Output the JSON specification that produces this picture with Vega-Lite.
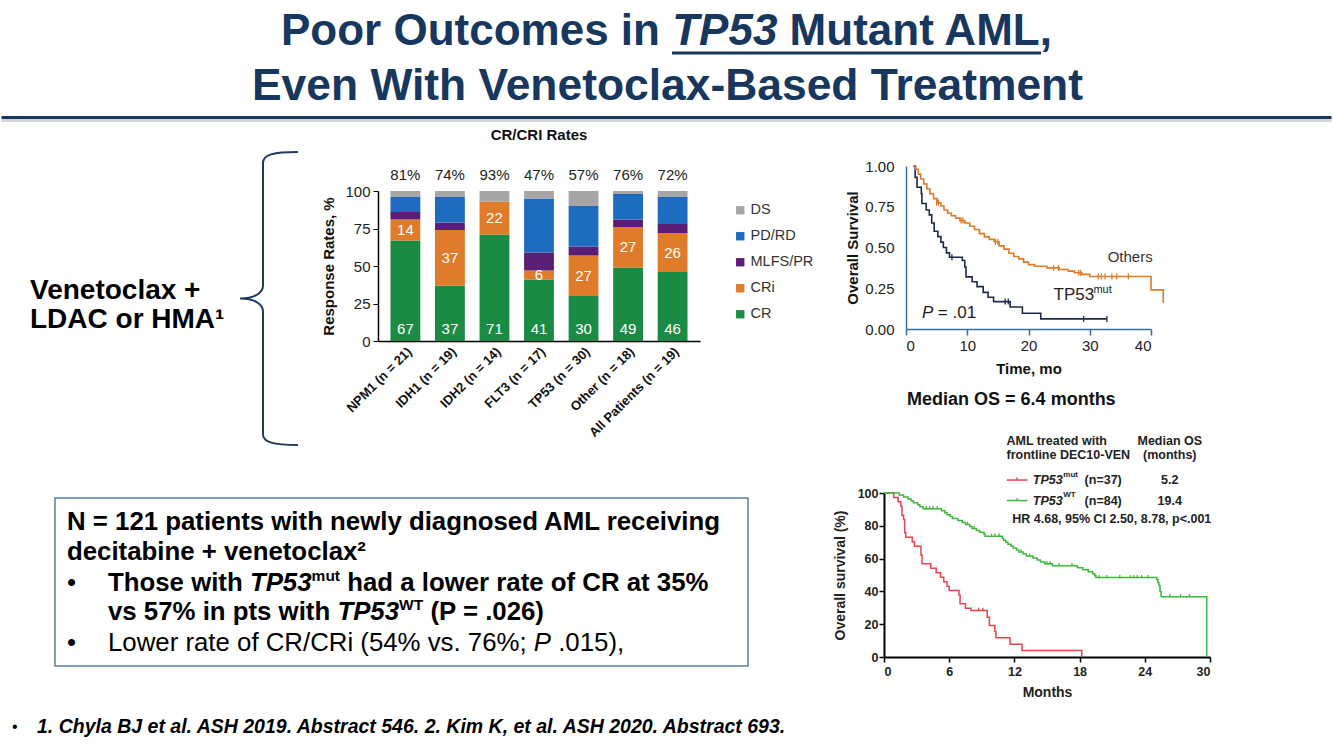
{
  "$schema": "https://vega.github.io/schema/vega-lite/v6.json",
  "background": "white",
  "padding": 0,
  "columns": 3,
  "spacing": 0,
  "bounds": "flush",
  "align": "each",
  "resolve": {"scale": {"color": "independent"}, "legend": {"color": "independent"}},
  "datasets": {
    "bars": [
      {"group": "NPM1 (n = 21)", "status": "CR", "k": 1, "value": 67},
      {"group": "NPM1 (n = 21)", "status": "CRi", "k": 2, "value": 14},
      {"group": "NPM1 (n = 21)", "status": "MLFS/PR", "k": 3, "value": 5},
      {"group": "NPM1 (n = 21)", "status": "PD/RD", "k": 4, "value": 10},
      {"group": "NPM1 (n = 21)", "status": "DS", "k": 5, "value": 4},
      {"group": "IDH1 (n = 19)", "status": "CR", "k": 1, "value": 37},
      {"group": "IDH1 (n = 19)", "status": "CRi", "k": 2, "value": 37},
      {"group": "IDH1 (n = 19)", "status": "MLFS/PR", "k": 3, "value": 5},
      {"group": "IDH1 (n = 19)", "status": "PD/RD", "k": 4, "value": 17},
      {"group": "IDH1 (n = 19)", "status": "DS", "k": 5, "value": 4},
      {"group": "IDH2 (n = 14)", "status": "CR", "k": 1, "value": 71},
      {"group": "IDH2 (n = 14)", "status": "CRi", "k": 2, "value": 22},
      {"group": "IDH2 (n = 14)", "status": "DS", "k": 5, "value": 7},
      {"group": "FLT3 (n = 17)", "status": "CR", "k": 1, "value": 41},
      {"group": "FLT3 (n = 17)", "status": "CRi", "k": 2, "value": 6},
      {"group": "FLT3 (n = 17)", "status": "MLFS/PR", "k": 3, "value": 12},
      {"group": "FLT3 (n = 17)", "status": "PD/RD", "k": 4, "value": 36},
      {"group": "FLT3 (n = 17)", "status": "DS", "k": 5, "value": 5},
      {"group": "TP53 (n = 30)", "status": "CR", "k": 1, "value": 30},
      {"group": "TP53 (n = 30)", "status": "CRi", "k": 2, "value": 27},
      {"group": "TP53 (n = 30)", "status": "MLFS/PR", "k": 3, "value": 6},
      {"group": "TP53 (n = 30)", "status": "PD/RD", "k": 4, "value": 27},
      {"group": "TP53 (n = 30)", "status": "DS", "k": 5, "value": 10},
      {"group": "Other (n = 18)", "status": "CR", "k": 1, "value": 49},
      {"group": "Other (n = 18)", "status": "CRi", "k": 2, "value": 27},
      {"group": "Other (n = 18)", "status": "MLFS/PR", "k": 3, "value": 5},
      {"group": "Other (n = 18)", "status": "PD/RD", "k": 4, "value": 17},
      {"group": "Other (n = 18)", "status": "DS", "k": 5, "value": 2},
      {"group": "All Patients (n = 19)", "status": "CR", "k": 1, "value": 46},
      {"group": "All Patients (n = 19)", "status": "CRi", "k": 2, "value": 26},
      {"group": "All Patients (n = 19)", "status": "MLFS/PR", "k": 3, "value": 6},
      {"group": "All Patients (n = 19)", "status": "PD/RD", "k": 4, "value": 18},
      {"group": "All Patients (n = 19)", "status": "DS", "k": 5, "value": 4}
    ],
    "km1": [
      {"grp": "TP53mut", "t": 1.2, "s": 1.0},
      {"grp": "TP53mut", "t": 1.5, "s": 0.93},
      {"grp": "TP53mut", "t": 1.8, "s": 0.87},
      {"grp": "TP53mut", "t": 2.5, "s": 0.83},
      {"grp": "TP53mut", "t": 2.6, "s": 0.77},
      {"grp": "TP53mut", "t": 3.3, "s": 0.73},
      {"grp": "TP53mut", "t": 3.8, "s": 0.70},
      {"grp": "TP53mut", "t": 4.2, "s": 0.65},
      {"grp": "TP53mut", "t": 4.6, "s": 0.60},
      {"grp": "TP53mut", "t": 5.2, "s": 0.567},
      {"grp": "TP53mut", "t": 5.7, "s": 0.533},
      {"grp": "TP53mut", "t": 6.1, "s": 0.50},
      {"grp": "TP53mut", "t": 6.6, "s": 0.467},
      {"grp": "TP53mut", "t": 7.1, "s": 0.44},
      {"grp": "TP53mut", "t": 9.2, "s": 0.42},
      {"grp": "TP53mut", "t": 9.6, "s": 0.38},
      {"grp": "TP53mut", "t": 9.8, "s": 0.32},
      {"grp": "TP53mut", "t": 10.8, "s": 0.29},
      {"grp": "TP53mut", "t": 11.6, "s": 0.26},
      {"grp": "TP53mut", "t": 12.6, "s": 0.225},
      {"grp": "TP53mut", "t": 13.4, "s": 0.195},
      {"grp": "TP53mut", "t": 14.3, "s": 0.168},
      {"grp": "TP53mut", "t": 17.0, "s": 0.135},
      {"grp": "TP53mut", "t": 19.0, "s": 0.097},
      {"grp": "TP53mut", "t": 22.0, "s": 0.062},
      {"grp": "TP53mut", "t": 32.8, "s": 0.062},
      {"grp": "Others", "t": 1.2, "s": 1.0},
      {"grp": "Others", "t": 1.6, "s": 0.98},
      {"grp": "Others", "t": 2.0, "s": 0.95},
      {"grp": "Others", "t": 2.4, "s": 0.92},
      {"grp": "Others", "t": 2.9, "s": 0.89},
      {"grp": "Others", "t": 3.4, "s": 0.86},
      {"grp": "Others", "t": 3.9, "s": 0.83},
      {"grp": "Others", "t": 4.5, "s": 0.80},
      {"grp": "Others", "t": 5.1, "s": 0.775},
      {"grp": "Others", "t": 5.7, "s": 0.755},
      {"grp": "Others", "t": 6.2, "s": 0.73},
      {"grp": "Others", "t": 6.8, "s": 0.71},
      {"grp": "Others", "t": 7.4, "s": 0.695},
      {"grp": "Others", "t": 8.1, "s": 0.68},
      {"grp": "Others", "t": 8.8, "s": 0.665},
      {"grp": "Others", "t": 9.6, "s": 0.65},
      {"grp": "Others", "t": 10.4, "s": 0.63},
      {"grp": "Others", "t": 11.2, "s": 0.61},
      {"grp": "Others", "t": 12.0, "s": 0.585},
      {"grp": "Others", "t": 12.8, "s": 0.565},
      {"grp": "Others", "t": 13.6, "s": 0.55},
      {"grp": "Others", "t": 14.4, "s": 0.535},
      {"grp": "Others", "t": 15.2, "s": 0.51},
      {"grp": "Others", "t": 16.0, "s": 0.49},
      {"grp": "Others", "t": 16.8, "s": 0.465},
      {"grp": "Others", "t": 17.6, "s": 0.445},
      {"grp": "Others", "t": 18.4, "s": 0.43},
      {"grp": "Others", "t": 19.2, "s": 0.41},
      {"grp": "Others", "t": 20.0, "s": 0.395},
      {"grp": "Others", "t": 21.0, "s": 0.385},
      {"grp": "Others", "t": 23.0, "s": 0.375},
      {"grp": "Others", "t": 25.0, "s": 0.365},
      {"grp": "Others", "t": 26.5, "s": 0.355},
      {"grp": "Others", "t": 27.5, "s": 0.345},
      {"grp": "Others", "t": 28.7, "s": 0.335},
      {"grp": "Others", "t": 30.0, "s": 0.322},
      {"grp": "Others", "t": 40.0, "s": 0.24},
      {"grp": "Others", "t": 42.0, "s": 0.16}
    ],
    "km1c": [
      {"grp": "Others", "t": 5.0, "s": 0.775},
      {"grp": "Others", "t": 5.3, "s": 0.775},
      {"grp": "Others", "t": 9.0, "s": 0.665},
      {"grp": "Others", "t": 9.3, "s": 0.665},
      {"grp": "Others", "t": 14.6, "s": 0.535},
      {"grp": "Others", "t": 15.0, "s": 0.535},
      {"grp": "Others", "t": 24.1, "s": 0.375},
      {"grp": "Others", "t": 24.9, "s": 0.375},
      {"grp": "Others", "t": 28.2, "s": 0.345},
      {"grp": "Others", "t": 28.5, "s": 0.345},
      {"grp": "Others", "t": 31.4, "s": 0.322},
      {"grp": "Others", "t": 31.9, "s": 0.322},
      {"grp": "Others", "t": 32.5, "s": 0.322},
      {"grp": "Others", "t": 33.6, "s": 0.322},
      {"grp": "Others", "t": 34.4, "s": 0.322},
      {"grp": "Others", "t": 36.3, "s": 0.322},
      {"grp": "TP53mut", "t": 7.5, "s": 0.44},
      {"grp": "TP53mut", "t": 16.2, "s": 0.168},
      {"grp": "TP53mut", "t": 16.7, "s": 0.168},
      {"grp": "TP53mut", "t": 29.0, "s": 0.062},
      {"grp": "TP53mut", "t": 32.8, "s": 0.062}
    ],
    "km2": [
      {"grp": "mut", "t": 0, "s": 100},
      {"grp": "mut", "t": 0.9, "s": 97.3},
      {"grp": "mut", "t": 1.3, "s": 94.6},
      {"grp": "mut", "t": 1.55, "s": 91.9},
      {"grp": "mut", "t": 1.65, "s": 86.5},
      {"grp": "mut", "t": 1.8, "s": 83.8},
      {"grp": "mut", "t": 1.9, "s": 75.7},
      {"grp": "mut", "t": 2.0, "s": 73.0},
      {"grp": "mut", "t": 2.6, "s": 70.3},
      {"grp": "mut", "t": 2.8, "s": 67.6},
      {"grp": "mut", "t": 3.4, "s": 62.2},
      {"grp": "mut", "t": 3.5, "s": 56.8},
      {"grp": "mut", "t": 4.3, "s": 54.1},
      {"grp": "mut", "t": 4.8, "s": 51.4},
      {"grp": "mut", "t": 5.2, "s": 48.6},
      {"grp": "mut", "t": 5.5, "s": 45.9},
      {"grp": "mut", "t": 5.8, "s": 43.2},
      {"grp": "mut", "t": 6.0, "s": 40.5},
      {"grp": "mut", "t": 6.9, "s": 37.8},
      {"grp": "mut", "t": 7.0, "s": 32.4},
      {"grp": "mut", "t": 7.5, "s": 29.7},
      {"grp": "mut", "t": 8.0, "s": 28.4},
      {"grp": "mut", "t": 9.5, "s": 24.3},
      {"grp": "mut", "t": 9.7, "s": 19.2},
      {"grp": "mut", "t": 10.2, "s": 15.6},
      {"grp": "mut", "t": 10.3, "s": 11.7},
      {"grp": "mut", "t": 11.6, "s": 7.8},
      {"grp": "mut", "t": 12.7, "s": 3.9},
      {"grp": "mut", "t": 18.2, "s": 0},
      {"grp": "wt", "t": 0, "s": 100},
      {"grp": "wt", "t": 1.4, "s": 98.8},
      {"grp": "wt", "t": 1.8, "s": 97.6},
      {"grp": "wt", "t": 2.2, "s": 96.4},
      {"grp": "wt", "t": 2.5, "s": 95.2},
      {"grp": "wt", "t": 2.7, "s": 94.0},
      {"grp": "wt", "t": 3.1, "s": 92.8},
      {"grp": "wt", "t": 3.3, "s": 91.6},
      {"grp": "wt", "t": 3.6, "s": 90.4},
      {"grp": "wt", "t": 5.3, "s": 89.2},
      {"grp": "wt", "t": 5.6, "s": 88.0},
      {"grp": "wt", "t": 5.8, "s": 86.8},
      {"grp": "wt", "t": 6.1, "s": 85.6},
      {"grp": "wt", "t": 6.3, "s": 84.4},
      {"grp": "wt", "t": 6.8, "s": 83.2},
      {"grp": "wt", "t": 7.2, "s": 82.0},
      {"grp": "wt", "t": 7.5, "s": 80.8},
      {"grp": "wt", "t": 7.9, "s": 79.6},
      {"grp": "wt", "t": 8.1, "s": 78.4},
      {"grp": "wt", "t": 8.5, "s": 77.2},
      {"grp": "wt", "t": 8.8, "s": 76.0},
      {"grp": "wt", "t": 9.2, "s": 74.8},
      {"grp": "wt", "t": 9.3, "s": 73.6},
      {"grp": "wt", "t": 10.9, "s": 72.4},
      {"grp": "wt", "t": 11.0, "s": 71.2},
      {"grp": "wt", "t": 11.2, "s": 70.0},
      {"grp": "wt", "t": 11.4, "s": 68.8},
      {"grp": "wt", "t": 11.7, "s": 67.6},
      {"grp": "wt", "t": 11.9, "s": 66.4},
      {"grp": "wt", "t": 12.2, "s": 65.2},
      {"grp": "wt", "t": 12.4, "s": 64.0},
      {"grp": "wt", "t": 12.8, "s": 62.8},
      {"grp": "wt", "t": 13.1, "s": 61.6},
      {"grp": "wt", "t": 13.7, "s": 60.4},
      {"grp": "wt", "t": 14.1, "s": 59.2},
      {"grp": "wt", "t": 14.4, "s": 58.0},
      {"grp": "wt", "t": 14.8, "s": 56.8},
      {"grp": "wt", "t": 15.5, "s": 55.6},
      {"grp": "wt", "t": 17.8, "s": 54.4},
      {"grp": "wt", "t": 18.3, "s": 53.2},
      {"grp": "wt", "t": 18.8, "s": 52.0},
      {"grp": "wt", "t": 19.2, "s": 50.8},
      {"grp": "wt", "t": 19.4, "s": 49.6},
      {"grp": "wt", "t": 19.5, "s": 48.4},
      {"grp": "wt", "t": 25.1, "s": 47.2},
      {"grp": "wt", "t": 25.2, "s": 45.4},
      {"grp": "wt", "t": 25.3, "s": 43.6},
      {"grp": "wt", "t": 25.4, "s": 40.0},
      {"grp": "wt", "t": 25.5, "s": 36.7},
      {"grp": "wt", "t": 29.7, "s": 0}
    ],
    "km2c": [
      {"grp": "mut", "t": 8.7, "s": 28.4},
      {"grp": "mut", "t": 9.1, "s": 28.4},
      {"grp": "wt", "t": 3.9, "s": 90.4},
      {"grp": "wt", "t": 4.2, "s": 90.4},
      {"grp": "wt", "t": 4.5, "s": 90.4},
      {"grp": "wt", "t": 4.9, "s": 90.4},
      {"grp": "wt", "t": 7.7, "s": 80.8},
      {"grp": "wt", "t": 8.3, "s": 78.4},
      {"grp": "wt", "t": 9.9, "s": 73.6},
      {"grp": "wt", "t": 10.2, "s": 73.6},
      {"grp": "wt", "t": 10.6, "s": 73.6},
      {"grp": "wt", "t": 12.6, "s": 64.0},
      {"grp": "wt", "t": 13.4, "s": 61.6},
      {"grp": "wt", "t": 15.0, "s": 56.8},
      {"grp": "wt", "t": 15.3, "s": 56.8},
      {"grp": "wt", "t": 16.1, "s": 55.6},
      {"grp": "wt", "t": 17.3, "s": 55.6},
      {"grp": "wt", "t": 19.8, "s": 48.4},
      {"grp": "wt", "t": 20.5, "s": 48.4},
      {"grp": "wt", "t": 21.7, "s": 48.4},
      {"grp": "wt", "t": 22.7, "s": 48.4},
      {"grp": "wt", "t": 23.0, "s": 48.4},
      {"grp": "wt", "t": 23.3, "s": 48.4},
      {"grp": "wt", "t": 23.7, "s": 48.4},
      {"grp": "wt", "t": 24.3, "s": 48.4},
      {"grp": "wt", "t": 26.3, "s": 36.7},
      {"grp": "wt", "t": 27.3, "s": 36.7},
      {"grp": "wt", "t": 28.1, "s": 36.7}
    ]
  },
  "concat": [
    {
      "width": 378, "height": 125,
      "data": {"values": [{}]},
      "layer": [
        {"mark": {"type": "text", "text": "Poor Outcomes in", "align": "left", "baseline": "middle", "fontSize": 44, "fontWeight": "bold", "color": "#17375e"},
         "encoding": {"x": {"datum": 281, "type": "quantitative", "scale": {"domain": [0, 378], "nice": false, "zero": false}, "axis": null},
                      "y": {"datum": 32, "type": "quantitative", "scale": {"domain": [0, 125], "reverse": true, "nice": false, "zero": false}, "axis": null}}},
        {"mark": {"type": "text", "text": "TP53", "align": "left", "baseline": "middle", "fontSize": 44, "fontWeight": "bold", "fontStyle": "italic", "color": "#17375e"},
         "encoding": {"x": {"datum": 672.2, "type": "quantitative", "axis": null}, "y": {"datum": 32, "type": "quantitative", "axis": null}}},
        {"mark": {"type": "text", "text": "Mutant AML,", "align": "left", "baseline": "middle", "fontSize": 44, "fontWeight": "bold", "color": "#17375e"},
         "encoding": {"x": {"datum": 789.6, "type": "quantitative", "axis": null}, "y": {"datum": 32, "type": "quantitative", "axis": null}}},
        {"mark": {"type": "text", "text": "Even With Venetoclax-Based Treatment", "align": "center", "baseline": "middle", "fontSize": 44.4, "fontWeight": "bold", "color": "#17375e"},
         "encoding": {"x": {"datum": 667.5, "type": "quantitative", "axis": null}, "y": {"datum": 87, "type": "quantitative", "axis": null}}},
        {"mark": {"type": "rule", "color": "#17375e", "strokeWidth": 3},
         "encoding": {"x": {"datum": 672, "type": "quantitative", "axis": null}, "x2": {"datum": 1041}, "y": {"datum": 53, "type": "quantitative", "axis": null}}},
        {"mark": {"type": "rule", "color": "#17375e", "strokeWidth": 3},
         "encoding": {"x": {"datum": 1.5, "type": "quantitative", "axis": null}, "x2": {"datum": 1331.5}, "y": {"datum": 117.5, "type": "quantitative", "axis": null}}},
        {"mark": {"type": "rule", "color": "#d3d7dd", "strokeWidth": 3},
         "encoding": {"x": {"datum": 1.5, "type": "quantitative", "axis": null}, "x2": {"datum": 1331.5}, "y": {"datum": 120.5, "type": "quantitative", "axis": null}}},
        {"mark": {"type": "text", "text": "CR/CRI Rates", "align": "center", "baseline": "middle", "fontSize": 15, "fontWeight": "bold", "color": "#111111"},
         "encoding": {"x": {"datum": 539, "type": "quantitative", "axis": null}, "y": {"datum": 135, "type": "quantitative", "axis": null}}},
        {"mark": {"type": "text", "text": ["Venetoclax +", "LDAC or HMA¹"], "align": "left", "baseline": "middle", "fontSize": 28, "fontWeight": "bold", "lineHeight": 29, "color": "#000000"},
         "encoding": {"x": {"datum": 30, "type": "quantitative", "axis": null}, "y": {"datum": 291, "type": "quantitative", "axis": null}}},
        {"mark": {"type": "point", "shape": "M0.237,-0.993C0.07,-0.993 0,-0.975 0,-0.92L0,-0.09C0,-0.03 -0.07,0 -0.156,0C-0.07,0 0,0.03 0,0.09L0,0.92C0,0.975 0.07,0.993 0.237,0.993", "size": 87025, "filled": false, "strokeWidth": 2, "color": "#1f3a5f", "opacity": 1},
         "encoding": {"x": {"datum": 263, "type": "quantitative", "axis": null}, "y": {"datum": 298.5, "type": "quantitative", "axis": null}}},
        {"mark": {"type": "rect", "filled": false, "color": "#5b7fa3", "strokeWidth": 1.5},
         "encoding": {"x": {"datum": 55, "type": "quantitative", "axis": null}, "x2": {"datum": 748}, "y": {"datum": 498, "type": "quantitative", "axis": null}, "y2": {"datum": 666}}},
        {"mark": {"type": "text", "text": "N = 121 patients with newly diagnosed AML receiving", "align": "left", "baseline": "middle", "fontSize": 25.8, "fontWeight": "bold", "color": "#000000"},
         "encoding": {"x": {"datum": 67, "type": "quantitative", "axis": null}, "y": {"datum": 522, "type": "quantitative", "axis": null}}},
        {"mark": {"type": "text", "text": "decitabine + venetoclax²", "align": "left", "baseline": "middle", "fontSize": 25.8, "fontWeight": "bold", "color": "#000000"},
         "encoding": {"x": {"datum": 67, "type": "quantitative", "axis": null}, "y": {"datum": 552, "type": "quantitative", "axis": null}}},
        {"mark": {"type": "text", "text": "•", "align": "left", "baseline": "middle", "fontSize": 25.8, "color": "#000000"},
         "encoding": {"x": {"datum": 67, "type": "quantitative", "axis": null}, "y": {"datum": 583, "type": "quantitative", "axis": null}}},
        {"mark": {"type": "text", "text": "Those with", "align": "left", "baseline": "middle", "fontSize": 25.8, "fontWeight": "bold", "color": "#000000"},
         "encoding": {"x": {"datum": 108, "type": "quantitative", "axis": null}, "y": {"datum": 583, "type": "quantitative", "axis": null}}},
        {"mark": {"type": "text", "text": "TP53", "align": "left", "baseline": "middle", "fontSize": 25.8, "fontWeight": "bold", "fontStyle": "italic", "color": "#000000"},
         "encoding": {"x": {"datum": 249.9, "type": "quantitative", "axis": null}, "y": {"datum": 583, "type": "quantitative", "axis": null}}},
        {"mark": {"type": "text", "text": "mut", "align": "left", "baseline": "middle", "fontSize": 15.5, "fontWeight": "bold", "color": "#000000"},
         "encoding": {"x": {"datum": 311.6, "type": "quantitative", "axis": null}, "y": {"datum": 575.5, "type": "quantitative", "axis": null}}},
        {"mark": {"type": "text", "text": "had a lower rate of CR at 35%", "align": "left", "baseline": "middle", "fontSize": 25.8, "fontWeight": "bold", "color": "#000000"},
         "encoding": {"x": {"datum": 347.2, "type": "quantitative", "axis": null}, "y": {"datum": 583, "type": "quantitative", "axis": null}}},
        {"mark": {"type": "text", "text": "vs 57% in pts with", "align": "left", "baseline": "middle", "fontSize": 25.8, "fontWeight": "bold", "color": "#000000"},
         "encoding": {"x": {"datum": 108, "type": "quantitative", "axis": null}, "y": {"datum": 612, "type": "quantitative", "axis": null}}},
        {"mark": {"type": "text", "text": "TP53", "align": "left", "baseline": "middle", "fontSize": 25.8, "fontWeight": "bold", "fontStyle": "italic", "color": "#000000"},
         "encoding": {"x": {"datum": 337.4, "type": "quantitative", "axis": null}, "y": {"datum": 612, "type": "quantitative", "axis": null}}},
        {"mark": {"type": "text", "text": "WT", "align": "left", "baseline": "middle", "fontSize": 15.5, "fontWeight": "bold", "color": "#000000"},
         "encoding": {"x": {"datum": 399.1, "type": "quantitative", "axis": null}, "y": {"datum": 604.5, "type": "quantitative", "axis": null}}},
        {"mark": {"type": "text", "text": "(P = .026)", "align": "left", "baseline": "middle", "fontSize": 25.8, "fontWeight": "bold", "color": "#000000"},
         "encoding": {"x": {"datum": 430.4, "type": "quantitative", "axis": null}, "y": {"datum": 612, "type": "quantitative", "axis": null}}},
        {"mark": {"type": "text", "text": "•", "align": "left", "baseline": "middle", "fontSize": 25.8, "color": "#000000"},
         "encoding": {"x": {"datum": 67, "type": "quantitative", "axis": null}, "y": {"datum": 643, "type": "quantitative", "axis": null}}},
        {"mark": {"type": "text", "text": "Lower rate of CR/CRi (54% vs. 76%;", "align": "left", "baseline": "middle", "fontSize": 25.8, "color": "#000000"},
         "encoding": {"x": {"datum": 108, "type": "quantitative", "axis": null}, "y": {"datum": 643, "type": "quantitative", "axis": null}}},
        {"mark": {"type": "text", "text": "P", "align": "left", "baseline": "middle", "fontSize": 25.8, "fontStyle": "italic", "color": "#000000"},
         "encoding": {"x": {"datum": 533.8, "type": "quantitative", "axis": null}, "y": {"datum": 643, "type": "quantitative", "axis": null}}},
        {"mark": {"type": "text", "text": ".015),", "align": "left", "baseline": "middle", "fontSize": 25.8, "color": "#000000"},
         "encoding": {"x": {"datum": 558.2, "type": "quantitative", "axis": null}, "y": {"datum": 643, "type": "quantitative", "axis": null}}},
        {"mark": {"type": "text", "text": "•", "align": "left", "baseline": "middle", "fontSize": 16, "color": "#000000"},
         "encoding": {"x": {"datum": 12, "type": "quantitative", "axis": null}, "y": {"datum": 727, "type": "quantitative", "axis": null}}},
        {"mark": {"type": "text", "text": "1. Chyla BJ et al. ASH 2019. Abstract 546. 2. Kim K, et al. ASH 2020. Abstract 693.", "align": "left", "baseline": "middle", "fontSize": 19.5, "fontWeight": "bold", "fontStyle": "italic", "color": "#000000"},
         "encoding": {"x": {"datum": 37, "type": "quantitative", "axis": null}, "y": {"datum": 727, "type": "quantitative", "axis": null}}}
      ]
    },
    {"width": 506, "height": 1, "data": {"values": []}, "mark": {"type": "point"}, "encoding": {}},
    {"width": 1, "height": 166, "data": {"values": []}, "mark": {"type": "point"}, "encoding": {}},
    {"width": 378, "height": 1, "data": {"values": []}, "mark": {"type": "point"}, "encoding": {}},
    {
      "width": 322, "height": 175,
      "data": {"name": "bars"},
      "encoding": {
        "x": {"field": "group", "type": "nominal", "sort": null,
              "scale": {"domain": ["NPM1 (n = 21)", "IDH1 (n = 19)", "IDH2 (n = 14)", "FLT3 (n = 17)", "TP53 (n = 30)", "Other (n = 18)", "All Patients (n = 19)"], "paddingInner": 0.33, "paddingOuter": 0.28},
              "axis": {"title": null, "labelAngle": -45, "labelFontWeight": "bold", "labelFontSize": 13, "labelColor": "#111111", "ticks": false, "domainColor": "#000000", "domainWidth": 1.5, "labelPadding": 4, "labelLimit": 0}}
      },
      "layer": [
        {"mark": {"type": "bar"},
         "encoding": {
           "y": {"field": "value", "type": "quantitative", "stack": "zero", "title": "Response Rates, %",
                 "scale": {"domain": [0, 100], "range": [175, 25], "nice": false},
                 "axis": {"values": [0, 25, 50, 75, 100], "labelOverlap": false, "titleFontSize": 15, "titleFontWeight": "bold", "titleColor": "#111111", "titlePadding": 8, "labelFontSize": 15, "labelColor": "#222222", "labelPadding": 3, "tickSize": 5, "tickColor": "#000000", "domainColor": "#000000", "domainWidth": 1.5, "grid": false}},
           "color": {"field": "status", "type": "nominal",
                     "scale": {"domain": ["DS", "PD/RD", "MLFS/PR", "CRi", "CR"], "range": ["#a6a6a6", "#1d6cbf", "#5b1e74", "#e07b2a", "#1b8b44"]},
                     "legend": {"title": null, "orient": "none", "legendX": 355, "legendY": 37, "symbolType": "square", "symbolSize": 70, "symbolStrokeWidth": 0, "labelFontSize": 14.5, "labelColor": "#333333", "rowPadding": 11, "labelOffset": 3, "padding": 0}},
           "order": {"field": "k", "type": "quantitative"}
         }},
        {"transform": [{"filter": "datum.status == 'CR'"}],
         "mark": {"type": "text", "color": "white", "fontSize": 15, "baseline": "middle"},
         "encoding": {"y": {"datum": 8, "type": "quantitative", "title": "Response Rates, %"}, "text": {"field": "value", "type": "quantitative"}}},
        {"transform": [
           {"stack": "value", "groupby": ["group"], "sort": [{"field": "k", "order": "ascending"}], "as": ["v0", "v1"]},
           {"filter": "datum.status == 'CRi'"},
           {"calculate": "(datum.v0 + datum.v1) / 2", "as": "mid"}
         ],
         "mark": {"type": "text", "color": "white", "fontSize": 15, "baseline": "middle"},
         "encoding": {"y": {"field": "mid", "type": "quantitative", "title": "Response Rates, %"}, "text": {"field": "value", "type": "quantitative"}}},
        {"transform": [
           {"filter": "datum.status == 'CR' || datum.status == 'CRi'"},
           {"aggregate": [{"op": "sum", "field": "value", "as": "tot"}], "groupby": ["group"]},
           {"calculate": "datum.tot + '%'", "as": "lbl"}
         ],
         "mark": {"type": "text", "color": "#222222", "fontSize": 15, "baseline": "middle"},
         "encoding": {"y": {"datum": 111, "type": "quantitative", "title": "Response Rates, %"}, "text": {"field": "lbl", "type": "nominal"}}}
      ]
    },
    {
      "width": 267, "height": 163,
      "data": {"values": [{}]},
      "layer": [
        {"data": {"name": "km1"},
         "mark": {"type": "line", "interpolate": "step-after", "strokeWidth": 1.6},
         "encoding": {
           "x": {"field": "t", "type": "quantitative", "title": "Time, mo", "scale": {"domain": [0, 40], "range": [22, 267], "nice": false},
                 "axis": {"values": [0, 10, 20, 30, 40], "labelOverlap": false, "titleFontSize": 15, "titleFontWeight": "bold", "titleColor": "#111111", "titlePadding": 8, "labelFontSize": 15, "labelColor": "#222222", "labelPadding": 3, "domainColor": "#3a6da6", "domainWidth": 1.5, "tickColor": "#3a6da6", "tickSize": 6, "tickWidth": 1.5, "grid": false}},
           "y": {"field": "s", "type": "quantitative", "title": "Overall Survival", "scale": {"domain": [0, 1], "nice": false},
                 "axis": {"values": [0, 0.25, 0.5, 0.75, 1], "format": ".2f", "offset": -22, "labelOverlap": false, "titleFontSize": 15, "titleFontWeight": "bold", "titleColor": "#111111", "titlePadding": 4, "labelFontSize": 15, "labelColor": "#222222", "labelPadding": 12, "ticks": false, "domainColor": "#3a6da6", "domainWidth": 1.5, "grid": false}},
           "color": {"field": "grp", "type": "nominal", "scale": {"domain": ["Others", "TP53mut"], "range": ["#e07b28", "#1e2a48"]}, "legend": null}
         }},
        {"data": {"name": "km1c"},
         "mark": {"type": "point", "shape": "M0,-1L0,1", "size": 36, "filled": false, "strokeWidth": 1.3, "opacity": 1},
         "encoding": {
           "x": {"field": "t", "type": "quantitative", "title": "Time, mo",
                 "axis": {"values": [0, 10, 20, 30, 40], "labelOverlap": false, "titleFontSize": 15, "titleFontWeight": "bold", "titleColor": "#111111", "titlePadding": 8, "labelFontSize": 15, "labelColor": "#222222", "labelPadding": 3, "domainColor": "#3a6da6", "domainWidth": 1.5, "tickColor": "#3a6da6", "tickSize": 6, "tickWidth": 1.5, "grid": false}},
           "y": {"field": "s", "type": "quantitative", "title": "Overall Survival",
                 "axis": {"values": [0, 0.25, 0.5, 0.75, 1], "format": ".2f", "offset": -22, "labelOverlap": false, "titleFontSize": 15, "titleFontWeight": "bold", "titleColor": "#111111", "titlePadding": 4, "labelFontSize": 15, "labelColor": "#222222", "labelPadding": 12, "ticks": false, "domainColor": "#3a6da6", "domainWidth": 1.5, "grid": false}},
           "color": {"field": "grp", "type": "nominal", "legend": null}
         }},
        {"mark": {"type": "text", "text": "Others", "align": "center", "baseline": "middle", "fontSize": 15, "color": "#333333"},
         "encoding": {"x": {"datum": 36.6, "type": "quantitative"}, "y": {"datum": 0.44, "type": "quantitative"}}},
        {"mark": {"type": "text", "text": "TP53", "align": "left", "baseline": "middle", "fontSize": 17, "color": "#222222"},
         "encoding": {"x": {"datum": 24.1, "type": "quantitative"}, "y": {"datum": 0.21, "type": "quantitative"}}},
        {"mark": {"type": "text", "text": "mut", "align": "left", "baseline": "middle", "fontSize": 11, "color": "#222222"},
         "encoding": {"x": {"datum": 30.6, "type": "quantitative"}, "y": {"datum": 0.24, "type": "quantitative"}}},
        {"mark": {"type": "text", "text": "P", "align": "left", "baseline": "middle", "fontSize": 17, "fontStyle": "italic", "color": "#222222"},
         "encoding": {"x": {"datum": 2.6, "type": "quantitative"}, "y": {"datum": 0.096, "type": "quantitative"}}},
        {"mark": {"type": "text", "text": "= .01", "align": "left", "baseline": "middle", "fontSize": 17, "color": "#222222"},
         "encoding": {"x": {"datum": 5.2, "type": "quantitative"}, "y": {"datum": 0.096, "type": "quantitative"}}},
        {"mark": {"type": "text", "text": "Median OS = 6.4 months", "align": "center", "baseline": "middle", "fontSize": 18, "fontWeight": "bold", "color": "#111111"},
         "encoding": {"x": {"datum": 17.2, "type": "quantitative"}, "y": {"datum": -0.436, "type": "quantitative"}}}
      ]
    },
    {"width": 1, "height": 1, "data": {"values": []}, "mark": {"type": "point"}, "encoding": {}},
    {"width": 1, "height": 1, "data": {"values": []}, "mark": {"type": "point"}, "encoding": {}},
    {"width": 1, "height": 152, "data": {"values": []}, "mark": {"type": "point"}, "encoding": {}},
    {"width": 1, "height": 1, "data": {"values": []}, "mark": {"type": "point"}, "encoding": {}},
    {"width": 1, "height": 1, "data": {"values": []}, "mark": {"type": "point"}, "encoding": {}},
    {
      "width": 326, "height": 164,
      "data": {"values": [{}]},
      "layer": [
        {"data": {"name": "km2"},
         "mark": {"type": "line", "interpolate": "step-after", "strokeWidth": 1.5},
         "encoding": {
           "x": {"field": "t", "type": "quantitative", "title": "Months", "scale": {"domain": [0, 30], "nice": false},
                 "axis": {"values": [0, 6, 12, 18, 24, 30], "tickCount": 6, "labelOverlap": false, "titleFontSize": 14, "titleFontWeight": "bold", "titleColor": "#222222", "titlePadding": 8, "labelFontSize": 12.5, "labelFontWeight": "bold", "labelColor": "#222222", "labelPadding": 3, "domainColor": "#000000", "domainWidth": 2, "tickColor": "#000000", "tickSize": 5, "tickWidth": 1.5, "grid": false}},
           "y": {"field": "s", "type": "quantitative", "title": "Overall survival (%)", "scale": {"domain": [0, 100], "nice": false},
                 "axis": {"values": [0, 20, 40, 60, 80, 100], "tickCount": 6, "labelOverlap": false, "titleFontSize": 14, "titleFontWeight": "bold", "titleColor": "#222222", "titlePadding": 10, "labelFontSize": 12.5, "labelFontWeight": "bold", "labelColor": "#222222", "labelPadding": 1, "domainColor": "#000000", "domainWidth": 2, "tickColor": "#000000", "tickSize": 5, "tickWidth": 1.5, "grid": false}},
           "color": {"field": "grp", "type": "nominal", "scale": {"domain": ["mut", "wt"], "range": ["#e5464c", "#3cb83c"]}, "legend": null}
         }},
        {"data": {"name": "km2c"},
         "mark": {"type": "point", "shape": "M0,-1L0,0.2", "size": 30, "filled": false, "strokeWidth": 1.2, "opacity": 1},
         "encoding": {
           "x": {"field": "t", "type": "quantitative", "title": "Months",
                 "axis": {"values": [0, 6, 12, 18, 24, 30], "tickCount": 6, "labelOverlap": false, "titleFontSize": 14, "titleFontWeight": "bold", "titleColor": "#222222", "titlePadding": 8, "labelFontSize": 12.5, "labelFontWeight": "bold", "labelColor": "#222222", "labelPadding": 3, "domainColor": "#000000", "domainWidth": 2, "tickColor": "#000000", "tickSize": 5, "tickWidth": 1.5, "grid": false}},
           "y": {"field": "s", "type": "quantitative", "title": "Overall survival (%)",
                 "axis": {"values": [0, 20, 40, 60, 80, 100], "tickCount": 6, "labelOverlap": false, "titleFontSize": 14, "titleFontWeight": "bold", "titleColor": "#222222", "titlePadding": 10, "labelFontSize": 12.5, "labelFontWeight": "bold", "labelColor": "#222222", "labelPadding": 1, "domainColor": "#000000", "domainWidth": 2, "tickColor": "#000000", "tickSize": 5, "tickWidth": 1.5, "grid": false}},
           "color": {"field": "grp", "type": "nominal", "legend": null}
         }},
        {"mark": {"type": "text", "text": "AML treated with", "align": "left", "baseline": "middle", "fontSize": 12.5, "fontWeight": "bold", "color": "#222222"},
         "encoding": {"x": {"datum": 11.27, "type": "quantitative"}, "y": {"datum": 131.9, "type": "quantitative"}}},
        {"mark": {"type": "text", "text": "frontline DEC10-VEN", "align": "left", "baseline": "middle", "fontSize": 12.5, "fontWeight": "bold", "color": "#222222"},
         "encoding": {"x": {"datum": 11.27, "type": "quantitative"}, "y": {"datum": 123.2, "type": "quantitative"}}},
        {"mark": {"type": "text", "text": "Median OS", "align": "center", "baseline": "middle", "fontSize": 12.5, "fontWeight": "bold", "color": "#222222"},
         "encoding": {"x": {"datum": 26.3, "type": "quantitative"}, "y": {"datum": 131.9, "type": "quantitative"}}},
        {"mark": {"type": "text", "text": "(months)", "align": "center", "baseline": "middle", "fontSize": 12.5, "fontWeight": "bold", "color": "#222222"},
         "encoding": {"x": {"datum": 26.3, "type": "quantitative"}, "y": {"datum": 123.2, "type": "quantitative"}}},
        {"mark": {"type": "rule", "color": "#e5464c", "strokeWidth": 1.5},
         "encoding": {"x": {"datum": 11.3, "type": "quantitative"}, "x2": {"datum": 13.2}, "y": {"datum": 107.9, "type": "quantitative"}}},
        {"mark": {"type": "rule", "color": "#3cb83c", "strokeWidth": 1.5},
         "encoding": {"x": {"datum": 11.3, "type": "quantitative"}, "x2": {"datum": 13.2}, "y": {"datum": 95.4, "type": "quantitative"}}},
        {"mark": {"type": "point", "shape": "M0,-1L0,0.2", "size": 30, "filled": false, "strokeWidth": 1.2, "color": "#e5464c", "opacity": 1},
         "encoding": {"x": {"datum": 12.25, "type": "quantitative"}, "y": {"datum": 107.9, "type": "quantitative"}}},
        {"mark": {"type": "point", "shape": "M0,-1L0,0.2", "size": 30, "filled": false, "strokeWidth": 1.2, "color": "#3cb83c", "opacity": 1},
         "encoding": {"x": {"datum": 12.25, "type": "quantitative"}, "y": {"datum": 95.4, "type": "quantitative"}}},
        {"mark": {"type": "text", "text": "TP53", "align": "left", "baseline": "middle", "fontSize": 12.5, "fontWeight": "bold", "fontStyle": "italic", "color": "#222222"},
         "encoding": {"x": {"datum": 13.7, "type": "quantitative"}, "y": {"datum": 107.9, "type": "quantitative"}}},
        {"mark": {"type": "text", "text": "mut", "align": "left", "baseline": "middle", "fontSize": 8, "fontWeight": "bold", "color": "#222222"},
         "encoding": {"x": {"datum": 16.5, "type": "quantitative"}, "y": {"datum": 111.2, "type": "quantitative"}}},
        {"mark": {"type": "text", "text": "(n=37)", "align": "left", "baseline": "middle", "fontSize": 12.5, "fontWeight": "bold", "color": "#222222"},
         "encoding": {"x": {"datum": 18.46, "type": "quantitative"}, "y": {"datum": 107.9, "type": "quantitative"}}},
        {"mark": {"type": "text", "text": "5.2", "align": "center", "baseline": "middle", "fontSize": 12.5, "fontWeight": "bold", "color": "#222222"},
         "encoding": {"x": {"datum": 26.3, "type": "quantitative"}, "y": {"datum": 107.9, "type": "quantitative"}}},
        {"mark": {"type": "text", "text": "TP53", "align": "left", "baseline": "middle", "fontSize": 12.5, "fontWeight": "bold", "fontStyle": "italic", "color": "#222222"},
         "encoding": {"x": {"datum": 13.7, "type": "quantitative"}, "y": {"datum": 95.4, "type": "quantitative"}}},
        {"mark": {"type": "text", "text": "WT", "align": "left", "baseline": "middle", "fontSize": 8, "fontWeight": "bold", "color": "#222222"},
         "encoding": {"x": {"datum": 16.5, "type": "quantitative"}, "y": {"datum": 98.7, "type": "quantitative"}}},
        {"mark": {"type": "text", "text": "(n=84)", "align": "left", "baseline": "middle", "fontSize": 12.5, "fontWeight": "bold", "color": "#222222"},
         "encoding": {"x": {"datum": 18.46, "type": "quantitative"}, "y": {"datum": 95.4, "type": "quantitative"}}},
        {"mark": {"type": "text", "text": "19.4", "align": "center", "baseline": "middle", "fontSize": 12.5, "fontWeight": "bold", "color": "#222222"},
         "encoding": {"x": {"datum": 26.3, "type": "quantitative"}, "y": {"datum": 95.4, "type": "quantitative"}}},
        {"mark": {"type": "text", "text": "HR 4.68, 95% CI 2.50, 8.78, p<.001", "align": "left", "baseline": "middle", "fontSize": 12.5, "fontWeight": "bold", "color": "#222222"},
         "encoding": {"x": {"datum": 11.8, "type": "quantitative"}, "y": {"datum": 84, "type": "quantitative"}}}
      ]
    }
  ],
  "config": {
    "view": {"stroke": null},
    "font": "Liberation Sans",
    "text": {"font": "Liberation Sans"},
    "axis": {"labelFont": "Liberation Sans", "titleFont": "Liberation Sans", "grid": false},
    "legend": {"labelFont": "Liberation Sans", "titleFont": "Liberation Sans"}
  }
}
